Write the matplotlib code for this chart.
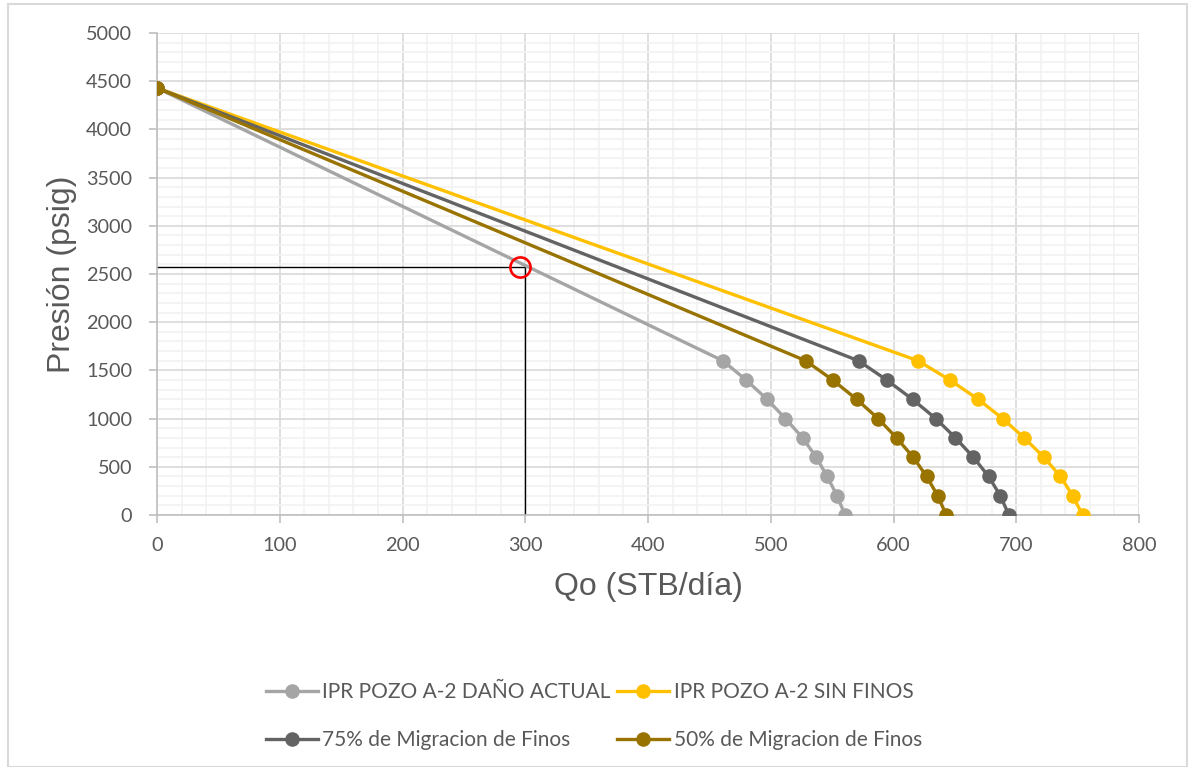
import matplotlib.pyplot as plt
from matplotlib.patches import Rectangle
from matplotlib.ticker import MultipleLocator

plt.rcParams["font.family"] = ["Lato", "DejaVu Sans"]

# ---------------------------------------------------------------------------
# Data
# ---------------------------------------------------------------------------
pwf = [4430, 1600, 1400, 1200, 1000, 800, 600, 400, 200, 0]

q_dano_actual = [0, 461, 480, 497, 512, 526, 537, 546, 554, 560.5]
q_sin_finos = [0, 620, 646, 669, 689, 706.5, 722.5, 736, 746, 754]
q_75_finos = [0, 571.5, 594.5, 615.5, 634.5, 650.5, 665, 677.5, 687, 694]
q_50_finos = [0, 528.5, 550.5, 570, 587.5, 602.5, 616, 627, 636, 643]

labels = [
    "IPR POZO A-2 DAÑO ACTUAL",
    "IPR POZO A-2 SIN FINOS",
    "75% de Migracion de Finos",
    "50% de Migracion de Finos",
]

# operating point read on the current IPR
q_op = 300
p_op = 2570
q_circle = 296

_COL_ACTUAL = "#A5A5A5"
_COL_SIN = "#FFC000"
_COL_75 = "#636363"
_COL_50 = "#997300"
_TXT = "#595959"

fig = plt.figure(figsize=(11.88, 7.67), dpi=100)
ax = fig.add_axes([157 / 1188, 1 - 515 / 767, (1139 - 157) / 1188, (515 - 33) / 767])

# chart area border
fig.patches.append(Rectangle((8 / 1188, 0), (1187 - 8) / 1188, 1 - 4 / 767,
                             transform=fig.transFigure, fill=False,
                             edgecolor="#D9D9D9", linewidth=1.5))

series = [
    (q_dano_actual, _COL_ACTUAL, labels[0]),
    (q_sin_finos, _COL_SIN, labels[1]),
    (q_75_finos, _COL_75, labels[2]),
    (q_50_finos, _COL_50, labels[3]),
]
handles = []
for q, col, lab in series:
    h, = ax.plot(q, pwf, color=col, linewidth=2.4, marker="o", markersize=10.5,
                 markeredgewidth=0, label=lab, zorder=3)
    handles.append(h)

# operating point guides
ax.plot([0, q_op], [p_op, p_op], color="black", linewidth=1.0, zorder=2.5)
ax.plot([q_op, q_op], [p_op, 0], color="black", linewidth=1.0, zorder=2.5)
ax.plot([q_circle], [p_op], marker="o", markersize=14.5, markerfacecolor="none",
        markeredgecolor="#FF0000", markeredgewidth=1.9, zorder=4)

ax.set_xlim(0, 800)
ax.set_ylim(0, 5000)
ax.xaxis.set_major_locator(MultipleLocator(100))
ax.xaxis.set_minor_locator(MultipleLocator(20))
ax.yaxis.set_major_locator(MultipleLocator(500))
ax.yaxis.set_minor_locator(MultipleLocator(100))

ax.grid(which="major", color="#D9D9D9", linewidth=1.2, zorder=0)
ax.grid(which="minor", color="#F2F2F2", linewidth=1.2, zorder=0)
ax.set_axisbelow(True)

for s in ("top", "right"):
    ax.spines[s].set_visible(False)
for s in ("left", "bottom"):
    ax.spines[s].set_color("#BFBFBF")
    ax.spines[s].set_linewidth(1.2)

ax.tick_params(which="major", direction="out", length=6, width=1.2,
               color="#BFBFBF", labelsize=14.3, labelcolor=_TXT)
ax.tick_params(axis="y", which="major", pad=12)
ax.tick_params(axis="x", which="major", pad=10)
ax.tick_params(which="minor", length=0)

ax.set_xlabel("Qo (STB/día)", fontsize=23, color=_TXT,
              family=["Liberation Sans", "DejaVu Sans"], va="center")
ax.set_ylabel("Presión (psig)", fontsize=23, color=_TXT,
              family=["Liberation Sans", "DejaVu Sans"], va="center")
ax.xaxis.set_label_coords(0.5, (515 - 587) / 482)
ax.yaxis.set_label_coords((62 - 157) / 982, 0.5)

# legend: rows -> (actual, sin finos), (75%, 50%)
order = [0, 2, 1, 3]
fig.legend([handles[i] for i in order], [labels[i] for i in order],
           ncol=2, loc="center", bbox_to_anchor=(0.5, 1 - 716 / 767),
           frameon=False, fontsize=15, labelcolor=_TXT, handlelength=2.5,
           handletextpad=0.2, columnspacing=0.3, labelspacing=1.35)

fig.savefig("out.png", dpi=100, facecolor="white")
